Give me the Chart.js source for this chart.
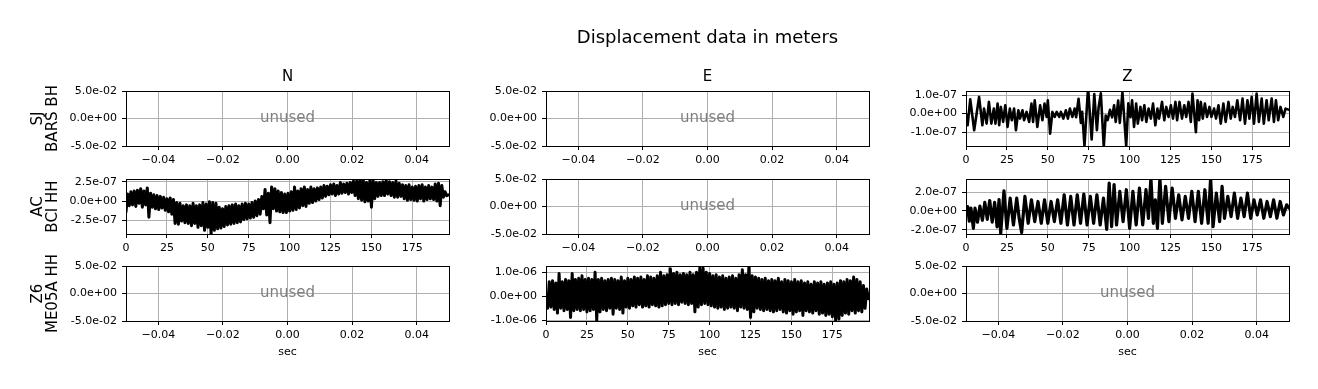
<!DOCTYPE html>
<html>
<head>
<meta charset="utf-8">
<script src="https://cdn.jsdelivr.net/npm/chart.js@4.4.1/dist/chart.umd.min.js"></script>
<style>
  html, body { margin: 0; padding: 0; background: #fff; }
  #fig { position: relative; width: 1318px; height: 389px; }
  #fig canvas { position: absolute; left: 0; top: 0; }
</style>
</head>
<body>
<div id="fig"></div>
<script>
// ---- data ----
const suptitle = 'Displacement data in meters';
const components = ['N', 'E', 'Z'];
const stations = [['SJ', 'BARS BH'], ['AC', 'BCI HH'], ['Z6', 'ME05A HH']];

const secTicks = [0, 25, 50, 75, 100, 125, 150, 175];
const unusedXTicks = [-0.04, -0.02, 0, 0.02, 0.04];
const unusedYTicks = [-0.05, 0, 0.05];

// SJ BARS BH, Z: turning points (sec, units of 1e-7 m)
const barsZTime = [
  0, 1, 2.6, 5, 8, 10, 11, 12.6, 14, 15.5,
  17, 18, 19.3, 20.3, 21.3, 22.7, 24, 25.4, 26.8, 28,
  29.4, 30.5, 32, 33, 34.5, 35.5, 37, 38.6, 40, 41,
  42, 43.6, 45.3, 46.7, 48, 49.3, 50, 51.4, 52.8, 54.2,
  55.4, 57, 58, 59.5, 61, 62.3, 63.5, 65, 66.4, 67.3,
  68.8, 70.2, 71, 72.4, 74.6, 76.8, 78.4, 80, 81, 82.4,
  84.2, 85.4, 86.6, 88, 89.3, 90.5, 91.5, 93, 94, 95.6,
  97.9, 99.2, 100.5, 101.5, 102.7, 104, 105, 106.6, 107.6, 109,
  110.2, 111.6, 113, 114.3, 115.7, 117, 118, 119.8, 121.2, 122.4,
  123.8, 125.2, 126.5, 128, 129, 130.5, 132, 133.4, 134.6, 136,
  137.4, 138.4, 140.5, 141.5, 142.5, 143.5, 144.7, 146, 147.3, 148.8,
  150, 151.6, 152.8, 154.3, 155.7, 157.3, 158.7, 160.4, 161.8, 163,
  164.4, 165.8, 167.5, 169, 170.5, 172, 173.2, 174.6, 176, 177.6,
  179, 180.7, 182, 183.7, 185, 186.8, 188.2, 189.4, 190.8, 192.2,
  193.9, 195.3, 197.4
];
const barsZVal = [
  0, -0.63, 0.77, -0.9, 0.9, -0.63, 0.27, -0.54, 0.63, -0.54,
  0.27, -0.54, 0.54, -0.63, 0.36, -0.45, 0.45, -0.72, 0.27, -0.36,
  0.27, -0.9, 0.18, -0.27, 0.18, -0.36, 0.09, -0.45, 0.54, -0.45,
  0.72, -0.72, 0.45, -0.36, 0.54, -0.18, 0.72, -1.08, 0.09, -0.18,
  0.09, -0.18, 0.09, -0.27, 0.18, -0.27, 0.27, -0.18, 0.27, -0.2,
  0.8, -0.5, 0.1, -1.75, 1.4, -1.4, 1.05, -0.9, 0.3, 1.1,
  -1.8, -0.1, -0.35, 0.2, -0.2, 0.45, -0.45, 0.7, -0.5, 1.15,
  -1.75, 0.55, -0.2, 0.72, -0.72, 0.54, -0.54, 0.36, -0.36, 0.45,
  -0.45, 0.27, -0.27, 0.54, -0.63, 0.27, -0.27, 0.63, -0.36, 0.36,
  -0.18, 0.45, -0.27, 0.63, -0.36, 0.63, -0.27, 0.45, -0.18, 0.63,
  -0.45, 1.08, -1.0, 0.72, -0.36, 0.63, -0.27, 0.54, -0.18, 0.36,
  -0.18, 0.27, -0.27, 0.45, -0.54, 0.54, -0.45, 0.63, -0.27, 0.36,
  -0.18, 0.72, -0.36, 0.81, -0.54, 0.72, -0.27, 0.9, -0.54, 1.08,
  -0.45, 0.81, -0.54, 0.72, -0.36, 0.81, -0.45, 0.72, -0.36, 0.36,
  -0.18, 0.27, 0.2
];

// AC BCI HH, N: one sample per second (units of 1e-7 m)
const bciNVal = [
  -1.4, 0.9, -0.6, 1.2, -0.5, 1.3, -0.7, 1.4, -0.3, 1.6,
  -0.8, 1.3, -0.5, 1.7, -2.1, 1.0, -0.8, 0.8, -1.0, 0.7,
  -1.1, 0.6, -0.9, 0.5, -1.2, 0.3, -1.4, 0.4, -1.7, 0.2,
  -2.9, -0.2, -3.0, -0.3, -2.6, -0.6, -2.8, -0.5, -2.9, -0.6,
  -3.2, -0.3, -2.9, -0.6, -3.4, -0.5, -3.2, -0.2, -3.8, -0.4,
  -3.4, -0.1, -4.3, -0.2, -3.8, -0.3, -3.6, -0.8, -3.5, -1.0,
  -3.3, -0.7, -3.1, -0.6, -3.0, -0.5, -2.9, -0.4, -2.8, -0.6,
  -2.7, -0.4, -2.4, -0.3, -2.3, -0.4, -2.2, -0.2, -2.1, 0.0,
  -1.9, 0.2, -1.7, 0.6, -1.0, 1.5, -1.8, 1.0, -2.8, 1.8,
  -1.0, 1.6, -1.3, 1.3, -1.4, 1.1, -1.5, 0.9, -1.5, 1.0,
  -1.3, 1.2, -1.2, 1.8, -1.1, 1.3, -0.9, 1.6, -0.6, 1.8,
  -0.7, 1.5, -0.3, 1.8, -0.2, 1.6, 0.0, 1.7, 0.2, 1.8,
  0.4, 2.0, 0.6, 1.9, 0.8, 2.1, 0.9, 2.2, 0.7, 2.0,
  0.9, 2.4, 1.0, 2.2, 1.1, 2.3, 0.9, 2.4, 1.1, 2.6,
  0.7, 2.6, 0.3, 2.8, 0.1, 2.7, -0.1, 2.4, 0.0, 2.6,
  -0.8, 2.7, 0.3, 2.4, 0.6, 2.4, 0.7, 2.5, 0.7, 2.7,
  0.9, 2.5, 0.7, 2.4, 0.5, 2.6, 0.5, 2.3, 0.6, 2.1,
  0.3, 2.0, 0.1, 2.1, 0.2, 1.8, 0.1, 1.9, 0.0, 2.0,
  0.3, 2.1, 0.0, 1.8, 0.2, 2.0, 0.3, 1.8, 0.2, 2.2,
  0.0, 2.3, -0.6, 2.0, 0.5, 1.2, 0.7, 0.8
];

// AC BCI HH, Z: turning points (sec, units of 1e-7 m)
const bciZTime = [
  0, 1, 2, 3, 4.5, 5.5, 7, 8.5, 10, 11.5,
  13, 14.5, 16, 17.5, 19, 20.2, 21.2, 23.2, 25, 27,
  29, 31, 32.5, 34, 36, 38, 40, 42, 44, 46,
  48, 50, 52, 54, 56, 58, 60, 62, 64, 66,
  68, 70, 72, 74, 76, 78, 80, 82, 84, 86,
  87.5, 89, 90.5, 92, 94, 96, 98, 100, 102, 104,
  106, 108, 110, 111.5, 113, 114.5, 115.7, 117, 118.5, 120,
  122, 124, 126, 128, 130, 132, 134, 136, 138, 140,
  142, 144, 146, 148, 149.5, 151, 153, 155, 156.5, 158,
  160, 162, 164, 166, 168, 170, 172, 174, 176, 178,
  180, 182, 184, 186, 188, 190, 192, 194, 196, 197.4
];
const bciZVal = [
  -0.3, 0.46, -1.1, 0.3, -1.86, 0.3, -1.2, 0.5, -1.0, 0.9,
  -0.9, 1.1, -1.2, 0.9, -1.7, 1.2, -2.4, 2.14, -1.86, 1.36,
  -1.5, 1.36, -0.8, -2.3, 1.54, -1.32, 1.18, -1.14, 1.0, -1.32,
  1.18, -1.32, 1.0, -1.14, 1.18, -1.32, 1.71, -1.5, 1.54, -1.5,
  1.71, -1.32, 1.79, -1.5, 1.54, -1.32, 1.71, -1.5, 1.36, -1.96,
  2.96, -1.68, 2.79, -1.5, 2.07, -1.14, 2.25, -1.86, 2.07, -1.5,
  2.43, -1.5, 2.25, -0.8, 3.5, -1.32, 1.18, -1.86, 3.5, -1.32,
  2.6, -1.14, 2.43, -0.79, 1.71, -0.96, 1.54, -0.79, 2.07, -1.14,
  2.07, -1.32, 2.25, -1.32, 3.5, -1.68, 1.89, -1.14, 2.6, -0.79,
  1.54, -0.61, 1.89, -0.79, 1.36, -0.61, 1.89, -0.79, 1.18, -0.43,
  1.18, -0.79, 1.0, -0.61, 1.18, -0.79, 1.0, -0.43, 0.64, 0.3
];

// Z6 ME05A HH, E: one sample per second (units of 1e-6 m)
const me05aEVal = [
  0.1, -0.5, 0.6, -0.45, 0.65, -0.55, 0.55, -0.7, 0.95, -0.5,
  0.6, -0.6, 0.7, -0.55, 0.65, -0.88, 0.95, -0.6, 0.7, -0.55,
  0.75, -0.6, 0.85, -0.55, 0.7, -0.65, 0.75, -0.6, 0.7, -0.55,
  1.0, -1.0, 0.7, -0.65, 0.75, -0.55, 0.65, -0.6, 0.7, -0.5,
  0.75, -0.75, 0.7, -0.5, 0.65, -0.55, 0.8, -0.7, 0.65, -0.45,
  0.75, -0.5, 0.7, -0.4, 0.8, -0.45, 0.75, -0.35, 0.8, -0.45,
  0.7, -0.4, 0.85, -0.45, 0.8, -0.35, 0.75, -0.4, 0.85, -0.45,
  1.0, -0.4, 0.85, -0.35, 0.9, -0.3, 1.15, -0.35, 0.95, -0.3,
  1.0, -0.35, 0.9, -0.25, 0.95, -0.3, 0.9, -0.35, 1.0, -0.3,
  0.9, -0.65, 1.0, -0.45, 1.2, -0.35, 1.18, -0.3, 1.0, -0.35,
  0.95, -0.4, 0.85, -0.45, 0.9, -0.5, 0.8, -0.45, 0.85, -0.55,
  0.75, -0.5, 0.8, -0.45, 0.85, -0.5, 0.75, -0.6, 0.9, -0.45,
  1.1, -0.5, 0.9, -0.55, 1.25, -0.88, 0.85, -0.65, 0.8, -0.5,
  0.75, -0.55, 0.7, -0.6, 0.75, -0.55, 0.65, -0.6, 0.7, -0.65,
  0.65, -0.6, 0.75, -0.55, 0.6, -0.65, 0.7, -0.7, 0.65, -0.6,
  0.6, -0.75, 0.7, -0.65, 0.6, -0.6, 0.65, -0.8, 0.55, -0.6,
  0.6, -0.65, 0.5, -0.7, 0.6, -0.6, 0.55, -0.75, 0.6, -0.7,
  0.5, -0.8, 0.55, -0.75, 0.6, -0.85, 0.5, -1.0, 0.55, -0.95,
  0.65, -0.8, 0.6, -0.7, 0.7, -0.75, 0.65, -0.6, 0.8, -0.7,
  0.7, -0.6, 0.6, -0.65, 0.45, -0.5, 0.3, -0.1
];

// ---- layout ----
const FIG_W = 1318, FIG_H = 389;
const plotLeft = [126, 546, 966];
const plotTop = [91, 179, 266];
const PW = 323, PH = 55;
const XAX_H = 45;
const FONT = '"DejaVu Sans", sans-serif';

Chart.defaults.font.family = FONT;
Chart.defaults.font.size = 11;
Chart.defaults.color = '#000';

function sci(v) {
  const [m, e] = v.toExponential(1).split('e');
  const n = parseInt(e, 10);
  return m + 'e' + (n < 0 ? '-' : '+') + String(Math.abs(n)).padStart(2, '0');
}
function fixed2(v) {
  return (v < -1e-12 ? '\u2212' : '') + Math.abs(v).toFixed(2);
}

function pairs(times, vals, unit) {
  return times.map((t, i) => ({ x: t, y: vals[i] * unit }));
}
function sampled(vals, unit) {
  return vals.map((v, i) => ({ x: i, y: v * unit }));
}

// traces keyed by "row,col"; missing ones are drawn as "unused"
const traces = {
  '0,2': { points: pairs(barsZTime, barsZVal, 1e-7), yMin: -1.75e-7, yMax: 1.22e-7, yTicks: [-1e-7, 0, 1e-7], lw: 2.6 },
  '1,0': { points: sampled(bciNVal, 1e-7), yMin: -4.27e-7, yMax: 2.85e-7, yTicks: [-2.5e-7, 0, 2.5e-7], lw: 3 },
  '1,2': { points: pairs(bciZTime, bciZVal, 1e-7), yMin: -2.46e-7, yMax: 3.39e-7, yTicks: [-2e-7, 0, 2e-7], lw: 3.2 },
  '2,1': { points: sampled(me05aEVal, 1e-6), yMin: -1.03e-6, yMax: 1.26e-6, yTicks: [-1e-6, 0, 1e-6], lw: 3 }
};

function panelPlugin(row, col, unused) {
  return {
    id: 'panel',
    afterDatasetsDraw(chart) {
      const { ctx, chartArea: a } = chart;
      ctx.save();
      ctx.strokeStyle = '#000';
      ctx.lineWidth = 1;
      ctx.strokeRect(Math.round(a.left) + 0.5, Math.round(a.top) + 0.5,
        Math.round(a.right - a.left), Math.round(a.bottom - a.top));
      ctx.textAlign = 'center';
      ctx.textBaseline = 'middle';
      const cx = (a.left + a.right) / 2;
      if (unused) {
        ctx.fillStyle = '#808080';
        ctx.font = '15px ' + FONT;
        ctx.fillText('unused', cx, (a.top + a.bottom) / 2);
      }
      ctx.fillStyle = '#000';
      if (row === 0) {
        ctx.font = '15px ' + FONT;
        ctx.fillText(components[col], cx, a.top - 13.5);
      }
      if (row === 0 && col === 1) {
        ctx.font = '18px ' + FONT;
        ctx.fillText(suptitle, cx, 38);
      }
      ctx.restore();
    }
  };
}

const fig = document.getElementById('fig');

for (let row = 0; row < 3; row++) {
  for (let col = 0; col < 3; col++) {
    const tr = traces[row + ',' + col];
    const yW = col === 0 ? 126 : 80;
    const canvas = document.createElement('canvas');
    canvas.width = FIG_W;
    canvas.height = FIG_H;
    fig.appendChild(canvas);

    const xTicks = tr ? secTicks : unusedXTicks;
    const yTicks = tr ? tr.yTicks : unusedYTicks;

    new Chart(canvas, {
      type: 'line',
      data: {
        datasets: tr ? [{
          data: tr.points,
          borderColor: '#000',
          borderWidth: tr.lw,
          borderJoinStyle: 'round',
          borderCapStyle: 'round',
          pointRadius: 0,
          tension: 0,
          fill: false,
          clip: 0
        }] : []
      },
      options: {
        responsive: false,
        animation: false,
        devicePixelRatio: 1,
        events: [],
        layout: {
          padding: {
            left: plotLeft[col] - yW,
            top: plotTop[row],
            right: FIG_W - plotLeft[col] - PW,
            bottom: FIG_H - plotTop[row] - PH - XAX_H
          }
        },
        plugins: { legend: { display: false }, tooltip: { enabled: false } },
        scales: {
          x: {
            type: 'linear',
            bounds: 'data',
            min: tr ? 0 : -0.05,
            max: tr ? 197.4 : 0.05,
            afterBuildTicks: s => { s.ticks = xTicks.map(v => ({ value: v })); },
            afterFit: s => { s.height = XAX_H; },
            ticks: {
              autoSkip: false, maxRotation: 0, padding: 4,
              callback: v => tr ? String(v) : fixed2(v)
            },
            grid: { color: '#b0b0b0', lineWidth: 1, tickLength: 4, tickColor: '#000', tickWidth: 1 },
            border: { display: false },
            title: {
              display: row === 2, text: 'sec',
              font: { size: 11 }, padding: { top: 0, bottom: 7 }
            }
          },
          y: {
            type: 'linear',
            bounds: 'data',
            min: tr ? tr.yMin : -0.05,
            max: tr ? tr.yMax : 0.05,
            afterBuildTicks: s => { s.ticks = yTicks.map(v => ({ value: v })); },
            afterFit: s => { s.width = yW; },
            ticks: { autoSkip: false, padding: 5, callback: v => sci(v) },
            grid: { color: '#b0b0b0', lineWidth: 1, tickLength: 4, tickColor: '#000', tickWidth: 1 },
            border: { display: false },
            title: {
              display: col === 0, text: stations[row],
              font: { size: 15, lineHeight: 1 }, padding: { top: 30.5, bottom: 0 }
            }
          }
        }
      },
      plugins: [panelPlugin(row, col, !tr)]
    });
  }
}
</script>
</body>
</html>
